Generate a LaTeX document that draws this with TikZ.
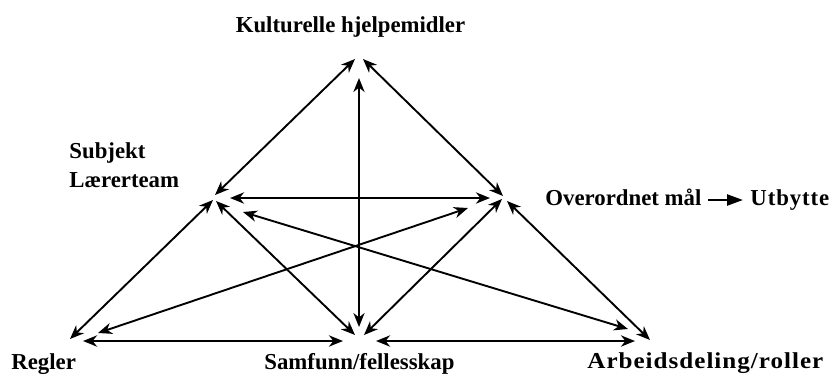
\documentclass[tikz,border=0pt]{standalone}
\usepackage{fontspec}
\setmainfont{Liberation Serif}
\usetikzlibrary{arrows.meta}
\newcommand{\lblfont}{\fontsize{11.4pt}{14pt}\selectfont\bfseries}
\begin{document}
\begin{tikzpicture}[x=0.5pt,y=-0.5pt,
  tip/.tip={Stealth[length=7pt,width=5.6pt,inset=2.2pt]},
  link/.style={line width=0.95pt,{tip}-{tip}},
  hlink/.style={link,line width=1.35pt},
  goal/.style={line width=1.2pt,-{Triangle[length=8pt,width=5.5pt]}},
  lbl/.style={font=\lblfont,inner sep=0pt}]
\useasboundingbox (0,0) rectangle (837,377);
% labels
\node[lbl,anchor=base] (kult) at (350.5,32) {Kulturelle hjelpemidler};
\node[lbl,anchor=base west] (subj) at (69,158) {Subjekt};
\node[lbl,anchor=base west] (laer) at (69,187) {Lærerteam};
\node[lbl,anchor=base west] (overord) at (545,205) {Overordnet mål};
\node[lbl,anchor=base west] (utb) at (750,205) {\addfontfeatures{LetterSpace=4}Utbytte};
\node[lbl,anchor=base west] (regl) at (11,369) {Regler};
\node[lbl,anchor=base west] (samf) at (264,369) {Samfunn/fellesskap};
\node[lbl,anchor=base west] (arb) at (587,368) {\scalebox{1.1}[1]{\addfontfeatures{LetterSpace=4}Arbeidsdeling/roller}};
% arrow ends
\coordinate (tS) at (355,59);  \coordinate (sT) at (215,195);
\coordinate (tO) at (363,59);  \coordinate (oT) at (503,196);
\coordinate (tC) at (359,78);  \coordinate (cT) at (359,327);
\coordinate (sO) at (230,198); \coordinate (oS) at (490,198);
\coordinate (sR) at (213,200); \coordinate (rS) at (70,339);
\coordinate (sC) at (216,201); \coordinate (cS) at (355,335);
\coordinate (oC) at (502,199); \coordinate (cO) at (364,335);
\coordinate (oD) at (507,201); \coordinate (dO) at (650,340);
\coordinate (rC) at (83,341);  \coordinate (cR) at (343,341);
\coordinate (cD) at (376,341); \coordinate (dC) at (635,341);
\coordinate (rO) at (98,333);  \coordinate (oR) at (468,208);
\coordinate (sD) at (243,212); \coordinate (dS) at (628,329);
\coordinate (gs) at (708,200); \coordinate (ge) at (743,200);
% connectors
\draw[link] (tS) -- (sT);
\draw[link] (tO) -- (oT);
\draw[link] (tC) -- (cT);
\draw[hlink] (sO) -- (oS);
\draw[link] (sR) -- (rS);
\draw[link] (sC) -- (cS);
\draw[link] (oC) -- (cO);
\draw[link] (oD) -- (dO);
\draw[hlink] (rC) -- (cR);
\draw[hlink] (cD) -- (dC);
\draw[link] (rO) -- (oR);
\draw[link] (sD) -- (dS);
\draw[goal] (gs) -- (ge);
\end{tikzpicture}
\end{document}
